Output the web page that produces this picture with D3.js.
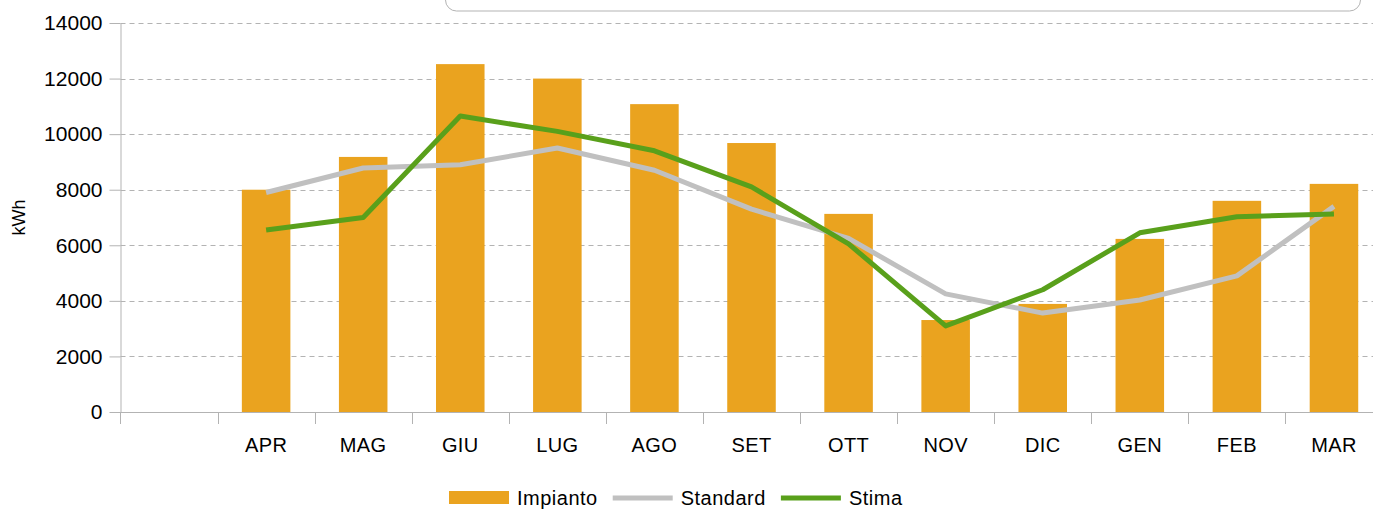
<!DOCTYPE html>
<html>
<head>
<meta charset="utf-8">
<script src="https://cdn.jsdelivr.net/npm/d3@7"></script>
<style>
  body { margin: 0; background: #fff; }
  svg { display: block; font-family: "Liberation Sans", Arial, sans-serif; }
</style>
</head>
<body>
<div id="chart"></div>
<script>
'use strict';

// categories: first slot is empty in the original
var months   = ['', 'APR', 'MAG', 'GIU', 'LUG', 'AGO', 'SET', 'OTT', 'NOV', 'DIC', 'GEN', 'FEB', 'MAR'];
var dataMonths = months.slice(1);
var impianto = [8000, 9180, 12520, 12000, 11080, 9680, 7130, 3310, 3890, 6230, 7600, 8210];
var standard = [7900, 8780, 8900, 9500, 8700, 7300, 6250, 4250, 3560, 4030, 4900, 7400];
var stima    = [6550, 7000, 10650, 10100, 9400, 8100, 6050, 3100, 4400, 6450, 7030, 7130];
var yTicks   = [0, 2000, 4000, 6000, 8000, 10000, 12000, 14000];
var seriesNames = ['Impianto', 'Standard', 'Stima'];
var colors = { Impianto: '#eaa31f', Standard: '#c0c0c0', Stima: '#59a01b' };

var W = 1373, H = 510;
var plotLeft = 120.5, plotRight = 1382.5, plotTop = 23, plotBottom = 412;

var svg = d3.select('#chart').append('svg')
    .attr('width', W)
    .attr('height', H);

var x = d3.scaleBand()
    .domain(months)
    .range([plotLeft, plotRight])
    .paddingInner(0.5)
    .paddingOuter(0.25);

var y = d3.scaleLinear()
    .domain([0, 14000])
    .range([plotBottom, plotTop]);

// cut-off box at the top
svg.append('rect')
    .attr('x', 445.5).attr('y', -30)
    .attr('width', 915).attr('height', 41)
    .attr('rx', 11).attr('ry', 11)
    .attr('fill', 'none')
    .attr('stroke', '#b3b3b3')
    .attr('stroke-width', 1);

// grid
svg.append('g')
    .selectAll('line')
    .data(yTicks)
    .enter().append('line')
    .attr('x1', plotLeft).attr('x2', plotRight)
    .attr('y1', function(d) { return Math.round(y(d)) + 0.5; })
    .attr('y2', function(d) { return Math.round(y(d)) + 0.5; })
    .attr('stroke', '#b3b3b3')
    .attr('stroke-dasharray', '5,4');

// y axis
var yAxis = svg.append('g')
    .attr('transform', 'translate(' + plotLeft + ',0)')
    .call(d3.axisLeft(y).tickValues(yTicks).tickFormat(d3.format('d'))
        .tickSize(11).tickPadding(7).tickSizeOuter(0));
yAxis.select('.domain').attr('stroke', '#b3b3b3');
yAxis.selectAll('.tick line').attr('stroke', '#b3b3b3');
yAxis.selectAll('.tick text')
    .attr('font-size', 21)
    .attr('font-family', '"Liberation Sans", Arial, sans-serif')
    .attr('fill', '#000');

// x axis (ticks on band boundaries)
var xAxis = svg.append('g')
    .attr('transform', 'translate(0,' + plotBottom + ')');
xAxis.append('line')
    .attr('x1', plotLeft).attr('x2', plotRight)
    .attr('y1', 0.5).attr('y2', 0.5)
    .attr('stroke', '#b3b3b3');
xAxis.selectAll('.bound')
    .data(months)
    .enter().append('line')
    .attr('class', 'bound')
    .attr('x1', function(d) { return Math.round(x(d) - x.bandwidth() / 2) + 0.5; })
    .attr('x2', function(d) { return Math.round(x(d) - x.bandwidth() / 2) + 0.5; })
    .attr('y1', 0).attr('y2', 12)
    .attr('stroke', '#b3b3b3');
xAxis.selectAll('.lbl')
    .data(months)
    .enter().append('text')
    .attr('class', 'lbl')
    .attr('x', function(d) { return x(d) + x.bandwidth() / 2; })
    .attr('y', 40)
    .attr('text-anchor', 'middle')
    .attr('font-size', 20)
    .attr('letter-spacing', 0.4)
    .attr('fill', '#000')
    .text(function(d) { return d; });

// y title
svg.append('text')
    .attr('transform', 'translate(25,' + ((plotTop + plotBottom) / 2) + ') rotate(-90)')
    .attr('text-anchor', 'middle')
    .attr('font-size', 18)
    .attr('fill', '#000')
    .text('kWh');

// bars
svg.append('g')
    .selectAll('rect')
    .data(impianto)
    .enter().append('rect')
    .attr('x', function(d, i) { return x(dataMonths[i]); })
    .attr('y', function(d) { return y(d); })
    .attr('width', x.bandwidth())
    .attr('height', function(d) { return plotBottom - y(d); })
    .attr('fill', colors.Impianto);

// lines
var line = d3.line()
    .x(function(d, i) { return x(dataMonths[i]) + x.bandwidth() / 2; })
    .y(function(d) { return y(d); });

[['Standard', standard], ['Stima', stima]].forEach(function(s) {
    svg.append('path')
        .datum(s[1])
        .attr('d', line)
        .attr('fill', 'none')
        .attr('stroke', colors[s[0]])
        .attr('stroke-width', 5)
        .attr('stroke-linejoin', 'round');
});

// legend
var legend = svg.append('g');
var lx = 449;
seriesNames.forEach(function(name) {
    if (name === 'Impianto') {
        legend.append('rect')
            .attr('x', lx).attr('y', 491)
            .attr('width', 60).attr('height', 13)
            .attr('fill', colors[name]);
    } else {
        legend.append('line')
            .attr('x1', lx).attr('x2', lx + 60)
            .attr('y1', 498).attr('y2', 498)
            .attr('stroke', colors[name])
            .attr('stroke-width', 5);
    }
    var t = legend.append('text')
        .attr('x', lx + 68)
        .attr('y', 505)
        .attr('font-size', 20)
        .attr('letter-spacing', 0.5)
        .attr('fill', '#000')
        .text(name);
    lx += 68 + t.node().getComputedTextLength() + 15;
});
</script>
</body>
</html>
